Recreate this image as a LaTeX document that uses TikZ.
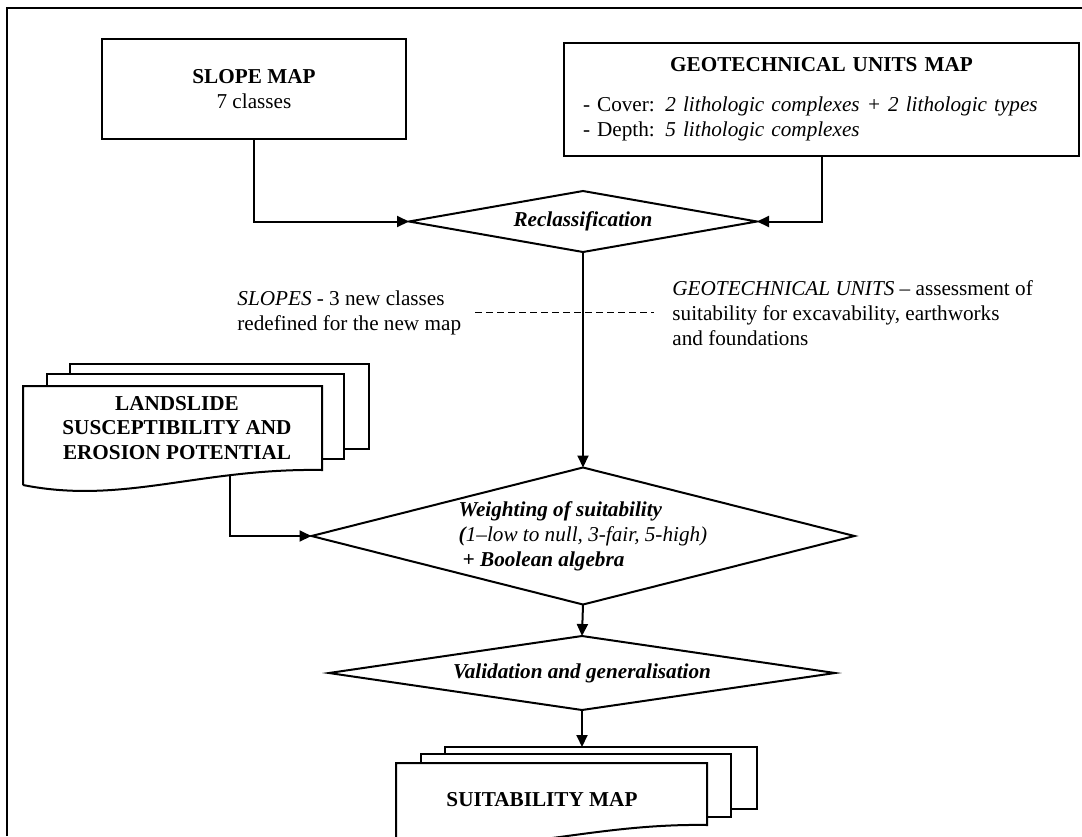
\documentclass[tikz,border=0pt]{standalone}
\usepackage{fontspec}
\setmainfont{Liberation Serif}
\usetikzlibrary{arrows.meta,shapes.geometric}
\tikzset{
	mapbox/.style={draw, line width=1pt, inner sep=0pt, align=center},
	choice/.style={draw, diamond, line width=1pt, inner sep=0pt, outer sep=0pt, align=left, font=\fontsize{10.6}{12.4}\selectfont\bfseries\itshape},
	sheet/.style={line width=1pt},
	flow/.style={line width=1pt, -{Triangle[length=6pt,width=5.5pt]}},
	note/.style={align=left, inner sep=0pt, anchor=west},
	notedash/.style={line width=0.5pt, dash pattern=on 3.5pt off 2pt}
}

\begin{document}
\begin{tikzpicture}[x=0.5pt, y=-0.5pt, every node/.style={font=\fontsize{10.6}{12.4}\selectfont}]
		%%%%% START %%%%%
		\useasboundingbox (0,0) rectangle (1082,836);
		\draw[line width=0.6pt] (7,836) -- (7,8) -- (1082,8);
		
		\node[mapbox, minimum width=152pt, minimum height=50pt] (slope) at (254,89) {\textbf{SLOPE MAP}\\7 classes};
		\node[mapbox, align=left, text width=238.5pt, minimum width=257.5pt, minimum height=56.5pt] (geo) at (821.5,99.5) {\makebox[\linewidth]{\textbf{GEOTECHNICAL UNITS MAP}}\\[7.5pt]- Cover: \textit{2 lithologic complexes + 2 lithologic types}\\- Depth: \textit{5 lithologic complexes}};
		
		\node[choice, aspect=5.7, minimum width=174pt, minimum height=30.5pt] (reclass) at (583,221.5) {Reclassification};
		\draw[flow] (slope.south) |- (reclass.west);
		\draw[flow] (geo.south) |- (reclass.east);
		
		\node[note] (slopenote) at (237,312.5) {\textit{SLOPES} - 3 new classes\\redefined for the new map};
		\node[note] (geonote) at (672,313) {\textit{GEOTECHNICAL UNITS} – assessment of\\suitability for excavability, earthworks\\and foundations};
		\draw[notedash] ([xshift=7pt]slopenote.east) -- ([xshift=-9pt]slopenote.east -| geonote.west);
		
		% landslide stack
		\draw[sheet] (70,374) -- (70,364) -- (369,364) -- (369,449) -- (344,449);
		\draw[sheet] (47,386) -- (47,374) -- (344,374) -- (344,459) -- (322,459);
		\draw[sheet] (23,485) -- (23,386) -- (322,386) -- (322,470) .. controls (199,468) and (123,505) .. (23,485);
		\node[font=\fontsize{10.6}{12.4}\selectfont\bfseries, align=center] (land) at (177,428) {LANDSLIDE\\SUSCEPTIBILITY AND\\EROSION POTENTIAL};
		\coordinate (landout) at (230,476);
		
		\node[choice, aspect=3.96, minimum width=271.5pt, minimum height=68.5pt] (weight) at (583,536) {Weighting of suitability\\\mdseries\textbf{(}1–low to null, 3-fair, 5-high)\\\hspace{2pt}+ Boolean algebra};
		\draw[flow] (reclass.south) -- (weight.north);
		\draw[flow] (landout) |- (weight.west);
		
		\node[choice, aspect=6.84, minimum width=253pt, minimum height=37pt] (valid) at (582,673) {Validation and generalisation};
		\draw[flow] (weight.south) -- (valid.north);
		
		% suitability stack
		\draw[sheet] (445,754) -- (445,747) -- (757,747) -- (757,809) -- (731,809);
		\draw[sheet] (421,763) -- (421,754) -- (731,754) -- (731,817) -- (707,817);
		\draw[sheet] (396,840) -- (396,763) -- (707,763) -- (707,825) .. controls (584,823) and (496,860) .. (396,840);
		\node[font=\fontsize{10.6}{12.4}\selectfont\bfseries] (suit) at (542,800) {SUITABILITY MAP};
		\coordinate (suittop) at (578,747);
		\draw[flow] (valid.south) -- (valid.south |- suittop);
		%%%%% END %%%%%
\end{tikzpicture}
\end{document}
